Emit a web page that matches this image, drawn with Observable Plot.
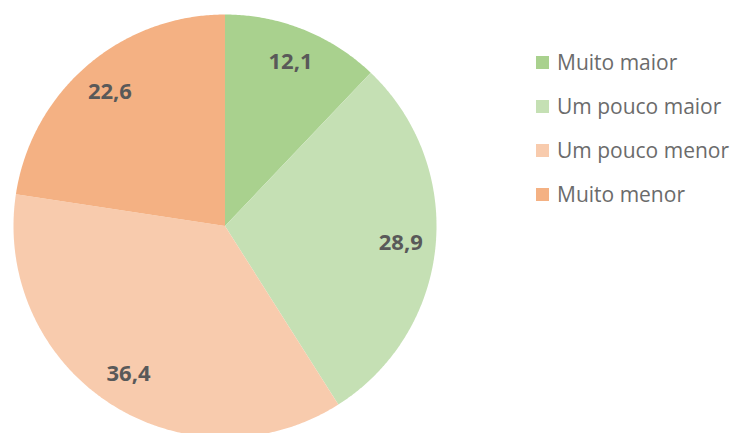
<!DOCTYPE html>
<html>
<head>
<meta charset="utf-8">
<script src="https://cdn.jsdelivr.net/npm/d3@7"></script>
<script src="https://cdn.jsdelivr.net/npm/@observablehq/plot@0.6"></script>
<style>
  html, body { margin: 0; padding: 0; background: #fff; }
  #wrap { position: relative; width: 734px; height: 433px; overflow: hidden; }
  #legend { position: absolute; left: 536px; top: 40px; font-family: "Open Sans", sans-serif; font-size: 21px; color: #6b6b6b; }
  .item { display: flex; align-items: center; height: 44px; }
  .sw { width: 13px; height: 13px; margin-right: 8px; }
</style>
</head>
<body>
<div id="wrap"></div>
<script>
const categories = ["Muito maior", "Um pouco maior", "Um pouco menor", "Muito menor"];
const values = [12.1, 28.9, 36.4, 22.6];
const labels = ["12,1", "28,9", "36,4", "22,6"];
const colors = ["#A9D18E", "#C5E0B4", "#F8CBAD", "#F4B183"];

const total = d3.sum(values);
const slices = [];
const labelRows = [];
let acc = 0;
categories.forEach((c, i) => {
  const a0 = acc / total * 2 * Math.PI;
  acc += values[i];
  const a1 = acc / total * 2 * Math.PI;
  const n = Math.max(2, Math.ceil((a1 - a0) / (Math.PI / 360)));
  slices.push({cat: c, x: 0, y: 0});
  for (let k = 0; k <= n; k++) {
    const a = a0 + (a1 - a0) * k / n;
    slices.push({cat: c, x: Math.sin(a), y: Math.cos(a)});
  }
  slices.push({cat: c, x: 0, y: 0});
  const am = (a0 + a1) / 2;
  labelRows.push({cat: c, label: labels[i], x: 0.835 * Math.sin(am), y: 0.835 * Math.cos(am)});
});

const chart = Plot.plot({
  width: 734,
  height: 433,
  margin: 0,
  style: {background: "transparent"},
  x: {domain: [-1, 1], range: [13, 436], axis: null},
  y: {domain: [-1, 1], range: [437, 14], axis: null},
  color: {domain: categories, range: colors},
  marks: [
    Plot.line(slices, {x: "x", y: "y", z: "cat", fill: "cat", stroke: null, curve: "linear"}),
    Plot.text(labelRows, {x: "x", y: "y", text: "label", fill: "#595959", fontSize: 22, fontWeight: "bold", fontFamily: "Open Sans"})
  ]
});
document.getElementById("wrap").appendChild(chart);

const legend = document.createElement("div");
legend.id = "legend";
categories.forEach((c, i) => {
  const it = document.createElement("div");
  it.className = "item";
  const sw = document.createElement("div");
  sw.className = "sw";
  sw.style.background = colors[i];
  const t = document.createElement("span");
  t.textContent = c;
  it.appendChild(sw);
  it.appendChild(t);
  legend.appendChild(it);
});
document.getElementById("wrap").appendChild(legend);
</script>
</body>
</html>
